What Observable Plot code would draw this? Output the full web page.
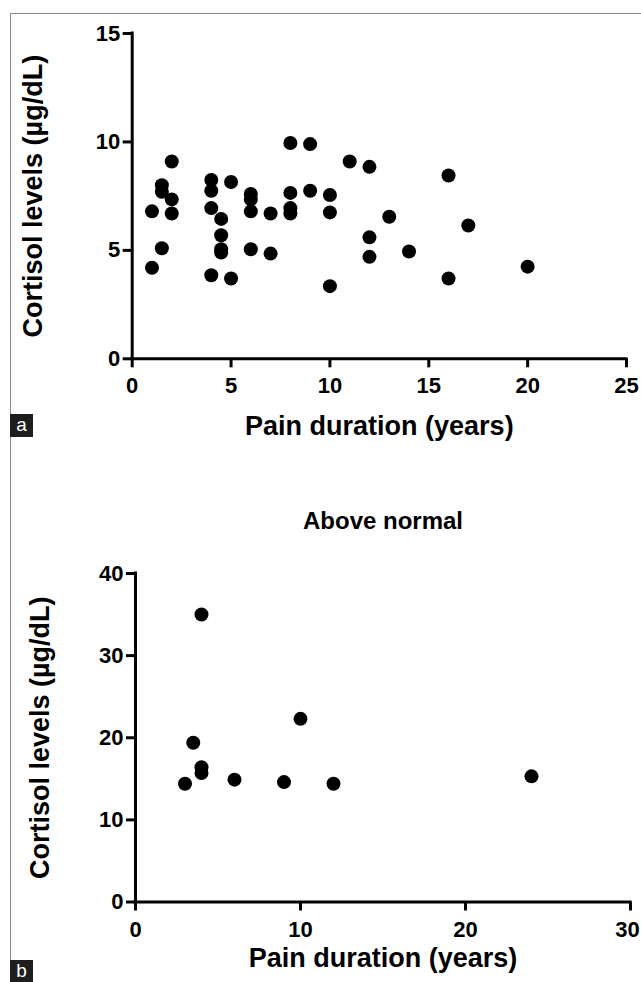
<!DOCTYPE html>
<html>
<head>
<meta charset="utf-8">
<script src="https://cdn.jsdelivr.net/npm/d3@7"></script>
<script src="https://cdn.jsdelivr.net/npm/@observablehq/plot@0.6"></script>
<style>
  body { margin: 0; background: #fff; }
  #wrap { position: relative; width: 641px; height: 982px; overflow: hidden; font-family: Arial, "Liberation Sans", sans-serif; background: #fff; }
  #frame { position: absolute; left: 10px; top: 13px; right: -4px; bottom: -4px; border-left: 1.5px solid #8a8a8a; border-top: 1.5px solid #8a8a8a; }
  .panel { position: absolute; left: 0; }
  .tag { position: absolute; left: 10px; width: 23px; height: 23px; background: #1e1e1e; color: #fff; font-size: 19px; line-height: 21px; text-align: center; font-family: Arial, "Liberation Sans", sans-serif; }
</style>
</head>
<body>
<div id="wrap">
  <div id="frame"></div>
  <div id="pa" class="panel" style="top:0px"></div>
  <div id="pb" class="panel" style="top:460px"></div>
  <div class="tag" style="top:414px">a</div>
  <div class="tag" style="top:960px">b</div>
</div>
<script>
// ---- Panel a: all patients ----
const aYears = [1, 1, 1.5, 1.5, 1.5, 2, 2, 2, 4, 4, 4, 4, 4.5, 4.5, 4.5, 4.5, 5, 5, 6, 6, 6, 6, 7, 7, 8, 8, 8, 8, 9, 9, 10, 10, 10, 11, 12, 12, 12, 13, 14, 16, 16, 17, 20];
const aCortisol = [6.8, 4.2, 8.0, 7.7, 5.1, 9.1, 7.35, 6.7, 8.25, 7.75, 6.95, 3.85, 6.45, 5.7, 5.05, 4.9, 8.15, 3.7, 7.6, 7.35, 6.8, 5.05, 6.7, 4.85, 9.95, 7.65, 6.95, 6.7, 9.9, 7.75, 7.55, 6.75, 3.35, 9.1, 8.85, 5.6, 4.7, 6.55, 4.95, 8.45, 3.7, 6.15, 4.25];
const aXTicks = [0, 5, 10, 15, 20, 25];
const aYTicks = [0, 5, 10, 15];

// ---- Panel b: above normal ----
const bYears = [3, 3.5, 4, 4, 4, 6, 9, 10, 12, 24];
const bCortisol = [14.4, 19.4, 35, 16.4, 15.7, 14.9, 14.6, 22.3, 14.4, 15.3];
const bXTicks = [0, 10, 20, 30];
const bYTicks = [0, 10, 20, 30, 40];

const xTitle = "Pain duration (years)";
const yTitle = "Cortisol levels (µg/dL)";
const bTitle = "Above normal";

const FONT = 'Arial, "Liberation Sans", sans-serif';

function panel(o) {
  const data = o.xs.map((x, i) => ({x, y: o.ys[i]}));
  const lastX = o.xTicks[o.xTicks.length - 1];
  const lastDx = o.lastDx || 0;
  const marks = [
    Plot.ruleY([0], {stroke: "black", strokeWidth: 3, strokeLinecap: "square"}),
    Plot.ruleX([0], {stroke: "black", strokeWidth: 3, strokeLinecap: "square"}),
    Plot.axisX({ticks: o.xTicks, tickSize: 9, tickPadding: 10, strokeWidth: 3, label: null, fontSize: 22, fontWeight: "bold",
      tickFormat: d => (lastDx && d === lastX) ? "" : d}),
    Plot.axisY({ticks: o.yTicks, tickSize: 9, tickPadding: 3, strokeWidth: 3, label: null, fontSize: 22, fontWeight: "bold", tickFormat: d => d}),
    Plot.dot(data, {x: "x", y: "y", r: 7, fill: "black", stroke: "none"}),
    Plot.text([xTitle], {frameAnchor: "bottom", lineAnchor: "middle", textAnchor: "middle", dy: o.xTitleDy, fontSize: 27, fontWeight: "bold", fill: "black"}),
    Plot.text([yTitle], {frameAnchor: "left", lineAnchor: "middle", textAnchor: "middle", dx: o.yTitleDx, rotate: -90, fontSize: 27, fontWeight: "bold", fill: "black"})
  ];
  if (lastDx) marks.push(Plot.axisX({ticks: [lastX], tickSize: 0, tickPadding: 19, label: null, fontSize: 22, fontWeight: "bold", dx: lastDx, tickFormat: d => d}));
  if (o.title) marks.push(Plot.text([o.title], {frameAnchor: "top", lineAnchor: "middle", textAnchor: "middle", dy: o.titleDy, fontSize: 24, fontWeight: "bold", fill: "black"}));
  return Plot.plot({
    width: 641,
    height: o.height,
    marginLeft: o.ml, marginRight: o.mr, marginTop: o.mt, marginBottom: o.mb,
    style: {fontFamily: FONT, color: "black", background: "transparent", overflow: "visible"},
    x: {domain: o.xDomain},
    y: {domain: o.yDomain},
    marks
  });
}

document.getElementById("pa").appendChild(panel({
  xs: aYears, ys: aCortisol, xDomain: [0, 25], yDomain: [0, 15], xTicks: aXTicks, yTicks: aYTicks,
  height: 460, ml: 131.7, mr: 15, mt: 33, mb: 101.7, xTitleDy: 68, yTitleDx: -99
}));

document.getElementById("pb").appendChild(panel({
  xs: bYears, ys: bCortisol, xDomain: [0, 30], yDomain: [0, 40], xTicks: bXTicks, yTicks: bYTicks,
  height: 522, ml: 135, mr: 11, mt: 113, mb: 80.5, xTitleDy: 56, yTitleDx: -95, title: bTitle, titleDy: -52, lastDx: -3
}));
</script>
</body>
</html>
